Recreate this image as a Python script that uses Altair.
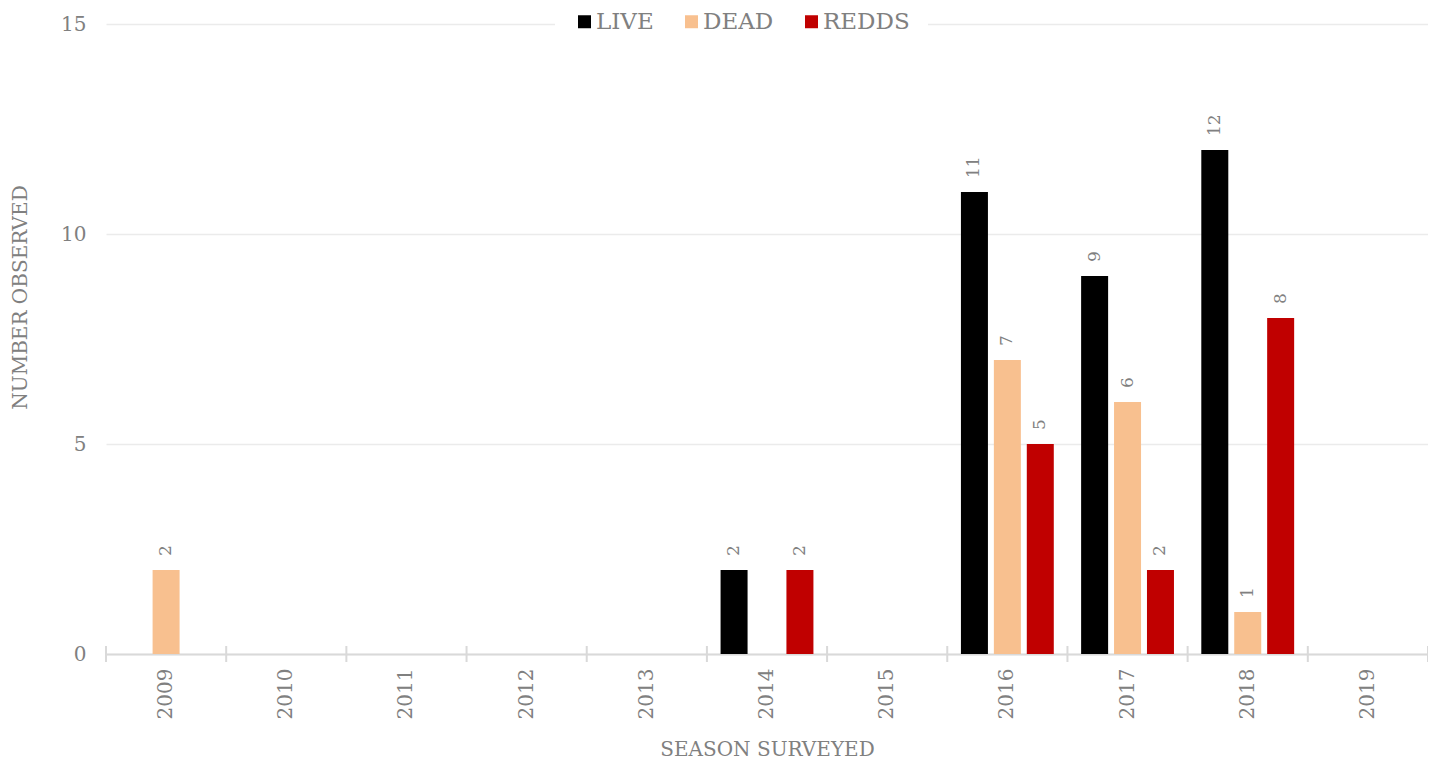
import altair as alt
import pandas as pd

years = ["2009", "2010", "2011", "2012", "2013", "2014", "2015", "2016", "2017", "2018", "2019"]
series = ["LIVE", "DEAD", "REDDS"]
colors = ["#000000", "#F8C08F", "#C00000"]
live = [None, None, None, None, None, 2, None, 11, 9, 12, None]
dead = [2, None, None, None, None, None, None, 7, 6, 1, None]
redds = [None, None, None, None, None, 2, None, 5, 2, 8, None]

rows = []
for name, vals in zip(series, [live, dead, redds]):
    for y, v in zip(years, vals):
        rows.append({"year": y, "series": name, "value": v})
df = pd.DataFrame(rows)
yr = pd.DataFrame({"year": years})
yr_last = pd.DataFrame({"year": years[-1:]})

W, H = 1322, 630
FONT = "DejaVu Serif"
GRAY = "#808080"
AXIS_GRAY = "#D9D9D9"

x_scale = alt.Scale(domain=years, paddingInner=0, paddingOuter=0)
x_axis = alt.Axis(
    title="SEASON SURVEYED", labelAngle=-90, labelFont=FONT, labelFontSize=20,
    labelColor=GRAY, labelPadding=14, ticks=False, domain=True, domainColor=AXIS_GRAY,
    domainWidth=2, titleFont=FONT, titleFontSize=20, titleFontWeight="normal",
    titleColor=GRAY, titlePadding=21, grid=False,
)
y_scale = alt.Scale(domain=[0, 15], nice=False)
y_axis = alt.Axis(
    values=[0, 5, 10, 15], title="NUMBER OBSERVED", labelFont=FONT,
    labelFontSize=20, labelColor=GRAY, labelPadding=20, ticks=False,
    domain=False, gridColor="#EBEBEB",
    gridWidth=1.5, titleFont=FONT, titleFontSize=20, titleFontWeight="normal",
    titleColor=GRAY, titlePadding=30, titleY=273,
)
xoff = alt.XOffset("series:N", scale=alt.Scale(domain=series, paddingInner=0.18, paddingOuter=0.415))

base = alt.Chart(df).transform_filter("datum.value > 0")

bars = base.mark_bar().encode(
    x=alt.X("year:N", scale=x_scale, axis=x_axis),
    xOffset=xoff,
    y=alt.Y("value:Q", scale=y_scale, axis=y_axis),
    color=alt.Color(
        "series:N",
        scale=alt.Scale(domain=series, range=colors),
        legend=alt.Legend(
            title=None, orient="none", direction="horizontal", legendX=449, legendY=-32,
            fillColor="white", padding=18, symbolType="square", symbolSize=169,
            symbolStrokeWidth=0, labelFont=FONT, labelFontSize=23, labelColor=GRAY,
            columnPadding=26, symbolOffset=0, labelOffset=0,
        ),
    ),
)

labels = base.mark_text(
    angle=270, align="left", baseline="middle", dx=14, font=FONT, fontSize=17, color=GRAY
).encode(
    x=alt.X("year:N", scale=x_scale, axis=x_axis),
    xOffset=xoff,
    y=alt.Y("value:Q", scale=y_scale, axis=y_axis),
    text=alt.Text("value:Q", format="d"),
)

ticks = alt.Chart(yr).mark_rule(color=AXIS_GRAY, strokeWidth=2).encode(
    x=alt.X("year:N", scale=x_scale, axis=x_axis, bandPosition=0),
    y=alt.value(H - 8),
    y2=alt.value(H + 8),
)
tick_end = alt.Chart(yr_last).mark_rule(color=AXIS_GRAY, strokeWidth=2).encode(
    x=alt.X("year:N", scale=x_scale, axis=x_axis, bandPosition=1),
    y=alt.value(H - 8),
    y2=alt.value(H + 8),
)

chart = alt.layer(bars, ticks, tick_end, labels).properties(
    width=W, height=H,
    background="white",
    autosize=alt.AutoSizeParams(type="none"),
    padding={"left": 98, "top": 16, "right": 0, "bottom": 108},
).configure_view(stroke="transparent", strokeWidth=0)

chart.save("out.html", embed_options={"renderer": "svg", "actions": False})
